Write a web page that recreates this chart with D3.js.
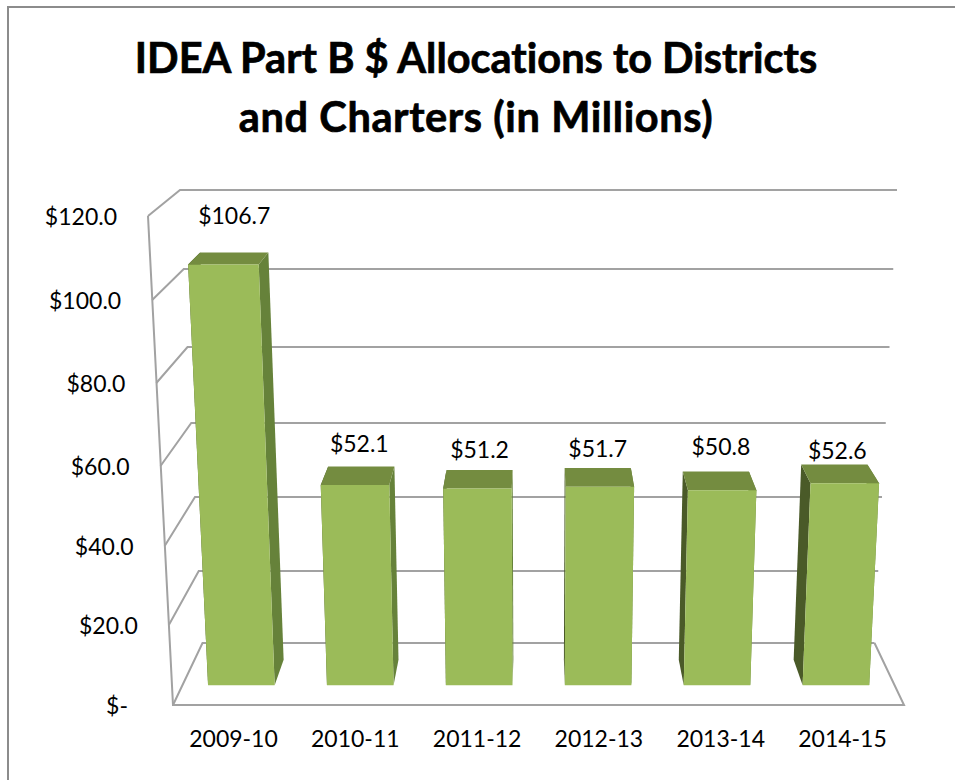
<!DOCTYPE html>
<html>
<head>
<meta charset="utf-8">
<script src="https://cdn.jsdelivr.net/npm/d3@7"></script>
<style>
  html, body { margin: 0; padding: 0; background: #fff; }
  text { font-family: Lato, sans-serif; fill: #000; font-variant-ligatures: none; }
</style>
</head>
<body>
<div id="chart"></div>
<script>
// DATA
var years = ["2009-10", "2010-11", "2011-12", "2012-13", "2013-14", "2014-15"];
var allocations = [106.7, 52.1, 51.2, 51.7, 50.8, 52.6];
var axisTicks = [0, 20, 40, 60, 80, 100, 120];
var titleLines = ["IDEA Part B $ Allocations to Districts", "and Charters (in Millions)"];

// GLOBALS
var width = 955, height = 780;
var gridColour = "#a2a2a2";
var frontColour = "#9bbb59", topColour = "#748c40", rightColour = "#66823a", leftColour = "#4a5a28";
var barFront = 0.32, barBack = 0.73;   // depth of a bar on the floor, 0 = front edge, 1 = back wall
var centreX = 538.5;

// the labels were hand placed in the original, so each one gets a nudge
var labelNudgeX = [0, -2, 0, 0, 5, 3];
var labelNudgeY = [28, 14, 12, 11, 16, 6];

var svg = d3.select("#chart").append("svg")
    .attr("width", width)
    .attr("height", height)
    .style("display", "block");

// the 3d box: y and width of the floor/wall at the front edge and at the back wall
var yFront = d3.scaleLinear().domain(axisTicks).range([705, 625, 546, 466, 383, 300, 216]);
var yBack = d3.scaleLinear().domain(axisTicks).range([643, 571, 497, 423, 347, 269, 190]);
var wFront = d3.scaleLinear().domain([0, 120]).range([731, 781]);
var wBack = d3.scaleLinear().domain([0, 120]).range([672, 717]);

function project(u, value, depth) {
  var w = wFront(value) + depth * (wBack(value) - wFront(value));
  var y = yFront(value) + depth * (yBack(value) - yFront(value));
  return [centreX + (u - 0.5) * w, y];
}

// same as project but bar tops sit a touch lower than the gridlines suggest
function barPoint(u, value, depth) {
  var p = project(u, value, depth);
  return value > 0 ? [p[0], p[1] + 2] : p;
}

var xBand = d3.scaleBand()
    .domain(years)
    .range([0.036, 0.9644])
    .paddingInner(0.44)
    .paddingOuter(0);

var line = d3.line();

// chart border, only left and top show in the picture
svg.append("path")
    .attr("d", line([[8, height], [8, 7], [width, 7]]))
    .attr("fill", "none")
    .attr("stroke", "#8c8c8c")
    .attr("stroke-width", 2);

// title
svg.selectAll(".title")
    .data(titleLines)
    .join("text")
    .attr("class", "title")
    .attr("x", 476)
    .attr("y", function(d, i) { return 73 + i * 59; })
    .attr("text-anchor", "middle")
    .attr("font-size", "41.5px")
    .attr("font-weight", "bold")
    .attr("letter-spacing", function(d, i) { return i == 1 ? "0.6px" : null; })
    .style("stroke", "#000")
    .style("stroke-width", "0.7px")
    .text(function(d) { return d; });

// walls and floor
var grid = svg.append("g")
    .attr("fill", "none")
    .attr("stroke", gridColour)
    .attr("stroke-width", 2);

grid.selectAll(".grid")
    .data(axisTicks)
    .join("path")
    .attr("class", "grid")
    .attr("d", function(d) { return line([project(0, d, 0), project(0, d, 1), project(1, d, 1)]); });

grid.append("path")
    .attr("d", line([project(0, 120, 0), project(0, 0, 0), project(1, 0, 0), project(1, 0, 1)]));

// bars
var bars = svg.selectAll(".bar")
    .data(allocations)
    .join("g")
    .attr("class", "bar");

function sideFace(d, u) {
  return line([
    barPoint(u, 0, barFront),
    barPoint(u, 0, barBack),
    barPoint(u, d, barBack),
    barPoint(u, d, barFront)
  ]) + "Z";
}

bars.append("path")
    .attr("fill", leftColour)
    .attr("d", function(d, i) { return sideFace(d, xBand(years[i])); });
bars.append("path")
    .attr("fill", rightColour)
    .attr("d", function(d, i) { return sideFace(d, xBand(years[i]) + xBand.bandwidth()); });
bars.append("path")
    .attr("fill", topColour)
    .attr("d", function(d, i) {
      var a = xBand(years[i]), b = a + xBand.bandwidth();
      return line([barPoint(a, d, barFront), barPoint(a, d, barBack), barPoint(b, d, barBack), barPoint(b, d, barFront)]) + "Z";
    });
bars.append("path")
    .attr("fill", frontColour)
    .attr("d", function(d, i) {
      var a = xBand(years[i]), b = a + xBand.bandwidth();
      return line([barPoint(a, 0, barFront), barPoint(b, 0, barFront), barPoint(b, d, barFront), barPoint(a, d, barFront)]) + "Z";
    });

// value labels
svg.selectAll(".value")
    .data(allocations)
    .join("text")
    .attr("class", "value")
    .attr("x", function(d, i) {
      return barPoint(xBand(years[i]) + xBand.bandwidth() / 2, d, barBack)[0] + labelNudgeX[i];
    })
    .attr("y", function(d, i) {
      return barPoint(0, d, barBack)[1] - labelNudgeY[i];
    })
    .attr("text-anchor", "middle")
    .attr("font-size", "23px")
    .text(function(d) { return d3.format("$.1f")(d); });

// y axis
var yAxis = svg.append("g")
    .call(d3.axisLeft(yFront)
      .tickValues(axisTicks)
      .tickSize(0)
      .tickFormat(function(d) { return d == 0 ? "$-" : d3.format("$.1f")(d); }));
yAxis.select(".domain").remove();
yAxis.selectAll("text")
    .attr("x", function(d) { return project(0, d, 0)[0] - (d == 0 ? 45 : 31); })
    .attr("y", 0)
    .attr("dy", "0.35em")
    .attr("font-size", "23px")
    .style("font-family", "Lato, sans-serif");

// x axis
var xLabels = d3.scalePoint().domain(years).range([233, 842]);
var xAxis = svg.append("g")
    .attr("transform", "translate(0,728)")
    .call(d3.axisBottom(xLabels).tickSize(0));
xAxis.select(".domain").remove();
xAxis.selectAll("text")
    .attr("font-size", "23px")
    .style("font-family", "Lato, sans-serif");
</script>
</body>
</html>
